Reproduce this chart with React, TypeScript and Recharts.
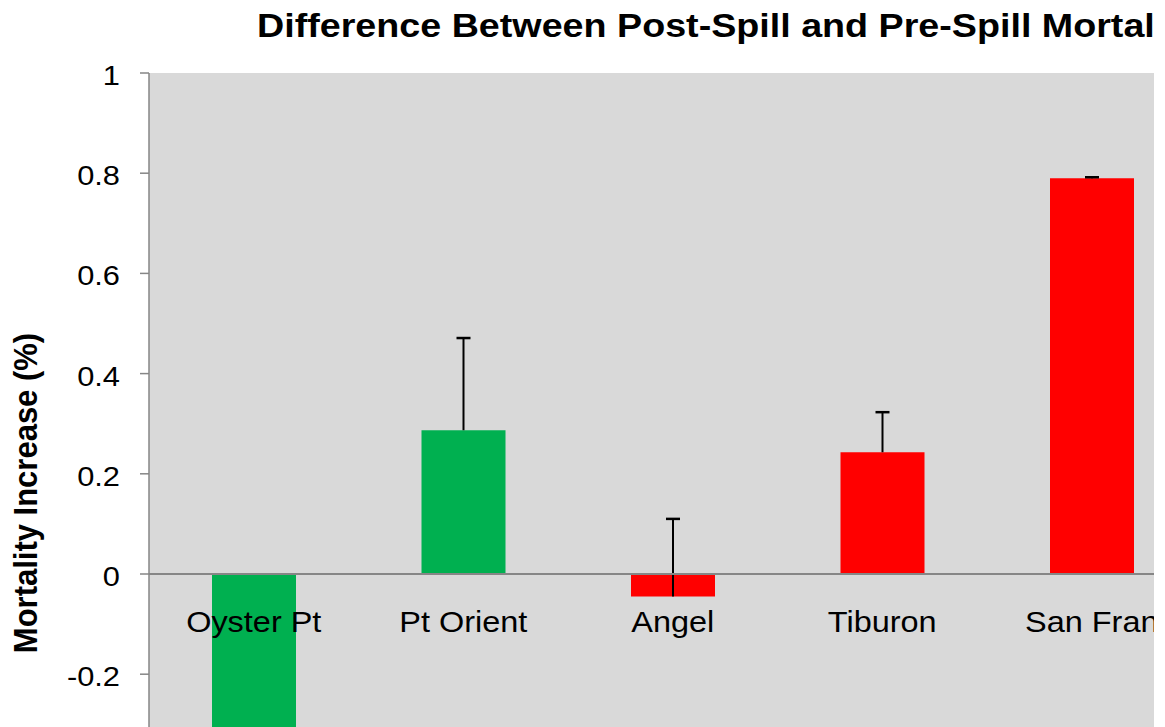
import React from 'react';
import { BarChart, Bar, XAxis, YAxis, CartesianGrid, ReferenceLine, Cell } from 'recharts';

const sites = ['Oyster Pt', 'Pt Orient', 'Angel', 'Tiburon', 'San Fran'];
const increase = [-0.36, 0.287, -0.045, 0.243, 0.79];
const plusError = [0.03, 0.184, 0.155, 0.08, 0.002];
const barColors = ['#00B050', '#00B050', '#FF0000', '#FF0000', '#FF0000'];
const yTicks = [-0.4, -0.2, 0, 0.2, 0.4, 0.6, 0.8, 1];

const FONT = '"Liberation Sans", Arial, sans-serif';

const data = sites.map((site, i) => ({ site, value: increase[i], err: plusError[i] }));

const YTick = (props: any) => {
  const { x, y, payload } = props;
  return (
    <g transform={`translate(${x},${y}) scale(1.1,1)`}>
      <text textAnchor="end" dy={12} fontSize={28} fontFamily={FONT} fill="#000">
        {String(payload.value)}
      </text>
    </g>
  );
};

// labels sit just under the zero line, like the Excel original
const XTick = (props: any) => {
  const { x, y, payload } = props;
  return (
    <g transform={`translate(${x},${y - 142.4}) scale(1.1,1)`}>
      <text textAnchor="middle" fontSize={29.5} fontFamily={FONT} fill="#000">
        {payload.value}
      </text>
    </g>
  );
};

const ErrorShape = (props: any) => {
  const { x, y, width, height } = props;
  const top = Math.min(y, y + height);
  const bottom = Math.max(y, y + height);
  const cx = x + width / 2;
  return (
    <g>
      <line x1={cx} x2={cx} y1={top} y2={bottom} stroke="#000" strokeWidth={2} />
      <line x1={x} x2={x + width} y1={top} y2={top} stroke="#000" strokeWidth={2.5} />
    </g>
  );
};

export default function App() {
  return (
    <div style={{ position: 'absolute', left: 0, top: 0, width: 1154, height: 727, overflow: 'hidden', background: '#fff' }}>
      <BarChart width={1200} height={800} data={data} margin={{ top: 73, right: 3.5, bottom: 0, left: 0 }}>
        <CartesianGrid horizontal={false} vertical={false} fill="#d9d9d9" />
        <XAxis
          dataKey="site"
          axisLine={false}
          tickLine={false}
          tickSize={0}
          tickMargin={0}
          height={25.6}
          interval={0}
          tick={<XTick />}
        />
        <XAxis dataKey="site" xAxisId="err" hide />
        <YAxis
          width={149}
          domain={[-0.4, 1]}
          ticks={yTicks}
          interval={0}
          allowDataOverflow
          axisLine={{ stroke: '#868686', strokeWidth: 1.5 }}
          tickLine={{ stroke: '#868686', strokeWidth: 1.5 }}
          tickSize={9}
          tickMargin={20}
          tick={<YTick />}
        />
        <Bar dataKey="value" barSize={84} isAnimationActive={false}>
          {data.map((d, i) => (
            <Cell key={d.site} fill={barColors[i]} />
          ))}
        </Bar>
        <ReferenceLine y={0} stroke="#868686" strokeWidth={2} />
        <Bar
          xAxisId="err"
          dataKey={(d: any) => [d.value, d.value + d.err]}
          barSize={14}
          shape={<ErrorShape />}
          isAnimationActive={false}
        />
      </BarChart>
      <svg width={1154} height={727} style={{ position: 'absolute', left: 0, top: 0, pointerEvents: 'none' }}>
        <g transform="translate(257,37) scale(1.108,1)">
          <text fontSize={34} fontWeight="bold" fontFamily={FONT} fill="#000">
            Difference Between Post-Spill and Pre-Spill Mortality
          </text>
        </g>
        <g transform="translate(37,493) scale(1.1,1) rotate(-90)">
          <text textAnchor="middle" fontSize={31} fontWeight="bold" fontFamily={FONT} fill="#000">
            Mortality Increase (%)
          </text>
        </g>
      </svg>
    </div>
  );
}
